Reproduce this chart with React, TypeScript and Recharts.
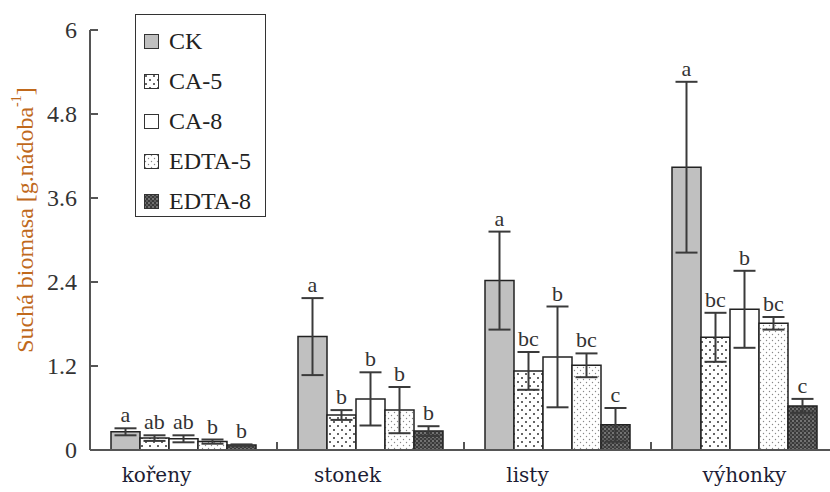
import React from "react";
import { BarChart, Bar, XAxis, YAxis, ErrorBar, LabelList, Legend } from "recharts";

const categories = ["kořeny", "stonek", "listy", "výhonky"];

const ckValues = [0.26, 1.62, 2.42, 4.04];
const ckErrors = [0.05, 0.55, 0.7, 1.22];
const ckLetters = ["a", "a", "a", "a"];

const ca5Values = [0.17, 0.5, 1.13, 1.61];
const ca5Errors = [0.04, 0.07, 0.27, 0.35];
const ca5Letters = ["ab", "b", "bc", "bc"];

const ca8Values = [0.16, 0.73, 1.33, 2.01];
const ca8Errors = [0.05, 0.38, 0.72, 0.55];
const ca8Letters = ["ab", "b", "b", "b"];

const edta5Values = [0.12, 0.57, 1.21, 1.81];
const edta5Errors = [0.03, 0.33, 0.17, 0.09];
const edta5Letters = ["b", "b", "bc", "bc"];

const edta8Values = [0.07, 0.27, 0.36, 0.63];
const edta8Errors = [0.01, 0.07, 0.24, 0.1];
const edta8Letters = ["b", "b", "c", "c"];

const yTicks = [0, 1.2, 2.4, 3.6, 4.8, 6];

// category labels in the original sit a bit left of the group centre
const labelShift = [-27, -23, -30, 0];

const series = [
  { key: "ck", name: "CK", values: ckValues, errors: ckErrors, letters: ckLetters, fill: "#c0c0c0" },
  { key: "ca5", name: "CA-5", values: ca5Values, errors: ca5Errors, letters: ca5Letters, fill: "url(#pat-ca5)" },
  { key: "ca8", name: "CA-8", values: ca8Values, errors: ca8Errors, letters: ca8Letters, fill: "#ffffff" },
  { key: "edta5", name: "EDTA-5", values: edta5Values, errors: edta5Errors, letters: edta5Letters, fill: "url(#pat-edta5)" },
  { key: "edta8", name: "EDTA-8", values: edta8Values, errors: edta8Errors, letters: edta8Letters, fill: "url(#pat-edta8)" },
];

const data = categories.map((name, i) => {
  const row: any = { name };
  series.forEach((s) => {
    row[s.key] = s.values[i];
    row[s.key + "Err"] = s.errors[i];
  });
  return row;
});

const serif = "'Liberation Serif', 'Times New Roman', serif";

const letterLabel = (s: any) => (props: any) => {
  const { x, y, width, height, value, index } = props;
  const px = value ? height / value : 0;
  const top = y - s.errors[index] * px;
  return (
    <text x={x + width / 2} y={top - 6} textAnchor="middle" fontFamily={serif} fontSize={22} fill="#333">
      {s.letters[index]}
    </text>
  );
};

const YTick = (props: any) => {
  const { x, y, payload } = props;
  const ax = x + 13;
  return (
    <g>
      <line x1={ax} x2={ax + 8} y1={y} y2={y} stroke="#555" strokeWidth={2} />
      <text x={x} y={y} dy="0.35em" textAnchor="end" fontFamily={serif} fontSize={24} fill="#333">
        {payload.value}
      </text>
    </g>
  );
};

const XTick = (props: any) => {
  const { x, y, payload, index } = props;
  const half = payload.offset ?? 93.5;
  return (
    <g>
      {index < categories.length - 1 && (
        <line x1={x + half} x2={x + half} y1={y} y2={y - 8} stroke="#555" strokeWidth={2} />
      )}
      <text
        x={x + labelShift[index]}
        y={y + 32}
        textAnchor="middle"
        fontFamily="'DejaVu Serif', serif"
        fontSize={20}
        fill="#1d1d35"
      >
        {payload.value}
      </text>
    </g>
  );
};

const YLabel = (props: any) => {
  const vb = props.viewBox || { x: 0, y: 30, width: 90, height: 420 };
  const cx = vb.x + 25;
  const cy = vb.y + vb.height / 2 - 20;
  return (
    <text
      x={cx}
      y={cy}
      transform={`rotate(-90, ${cx}, ${cy})`}
      textAnchor="middle"
      dominantBaseline="central"
      fontFamily={serif}
      fontSize={24}
      fill="#c0691c"
    >
      Suchá biomasa [g.nádoba
      <tspan fontSize={14} dy={-9}>-1</tspan>
      <tspan dy={9}>]</tspan>
    </text>
  );
};

const LegendBox = () => (
  <div
    style={{
      boxSizing: "border-box",
      width: 131,
      height: 203,
      border: "1.5px solid #333",
      background: "#fff",
      paddingTop: 6,
      paddingLeft: 8,
    }}
  >
    {series.map((s) => (
      <div key={s.key} style={{ display: "flex", alignItems: "center", height: 40 }}>
        <svg width={15} height={15} style={{ marginRight: 10 }}>
          <rect x={0.5} y={0.5} width={14} height={14} fill={s.fill} stroke="#333" strokeWidth={1} />
        </svg>
        <span style={{ fontFamily: serif, fontSize: 24, color: "#222", lineHeight: "24px" }}>{s.name}</span>
      </div>
    ))}
  </div>
);

export default function App() {
  return (
    <div style={{ position: "absolute", left: 0, top: 0, width: 830, height: 492, overflow: "hidden", background: "#fff" }}>
      <BarChart
        width={850}
        height={492}
        data={data}
        margin={{ top: 30, right: 12, left: 0, bottom: 0 }}
        barCategoryGap={21}
        barGap={0}
      >
        <defs>
          <pattern id="pat-ca5" width={8} height={8} patternUnits="userSpaceOnUse">
            <rect width={8} height={8} fill="#fff" />
            <circle cx={2} cy={2} r={1} fill="#333" />
            <circle cx={6} cy={6} r={1} fill="#333" />
          </pattern>
          <pattern id="pat-edta5" width={6} height={6} patternUnits="userSpaceOnUse">
            <rect width={6} height={6} fill="#fff" />
            <circle cx={1.5} cy={1.5} r={0.7} fill="#888" />
            <circle cx={4.5} cy={4.5} r={0.7} fill="#888" />
          </pattern>
          <pattern id="pat-edta8" width={4} height={4} patternUnits="userSpaceOnUse">
            <rect width={4} height={4} fill="#3a3a3a" />
            <circle cx={1} cy={1} r={0.8} fill="#bbb" />
            <circle cx={3} cy={3} r={0.8} fill="#888" />
          </pattern>
        </defs>
        <XAxis
          dataKey="name"
          height={42}
          interval={0}
          tickSize={0}
          tickMargin={0}
          tickLine={false}
          axisLine={{ stroke: "#555", strokeWidth: 2 }}
          tick={<XTick />}
        />
        <YAxis
          width={90}
          domain={[0, 6]}
          ticks={yTicks}
          interval={0}
          tickSize={0}
          tickMargin={13}
          tickLine={false}
          axisLine={{ stroke: "#555", strokeWidth: 2 }}
          tick={<YTick />}
          label={{ content: <YLabel /> }}
        />
        <Legend
          layout="horizontal"
          verticalAlign="middle"
          align="center"
          wrapperStyle={{ left: 135, top: 14, width: 131, height: 203 }}
          content={() => <LegendBox />}
        />
        {series.map((s) => (
          <Bar
            key={s.key}
            dataKey={s.key}
            name={s.name}
            fill={s.fill}
            stroke="#222"
            strokeWidth={1.5}
            isAnimationActive={false}
          >
            <ErrorBar dataKey={s.key + "Err"} width={11} stroke="#3a3a3a" strokeWidth={2} />
            <LabelList dataKey={s.key} content={letterLabel(s)} />
          </Bar>
        ))}
      </BarChart>
    </div>
  );
}
